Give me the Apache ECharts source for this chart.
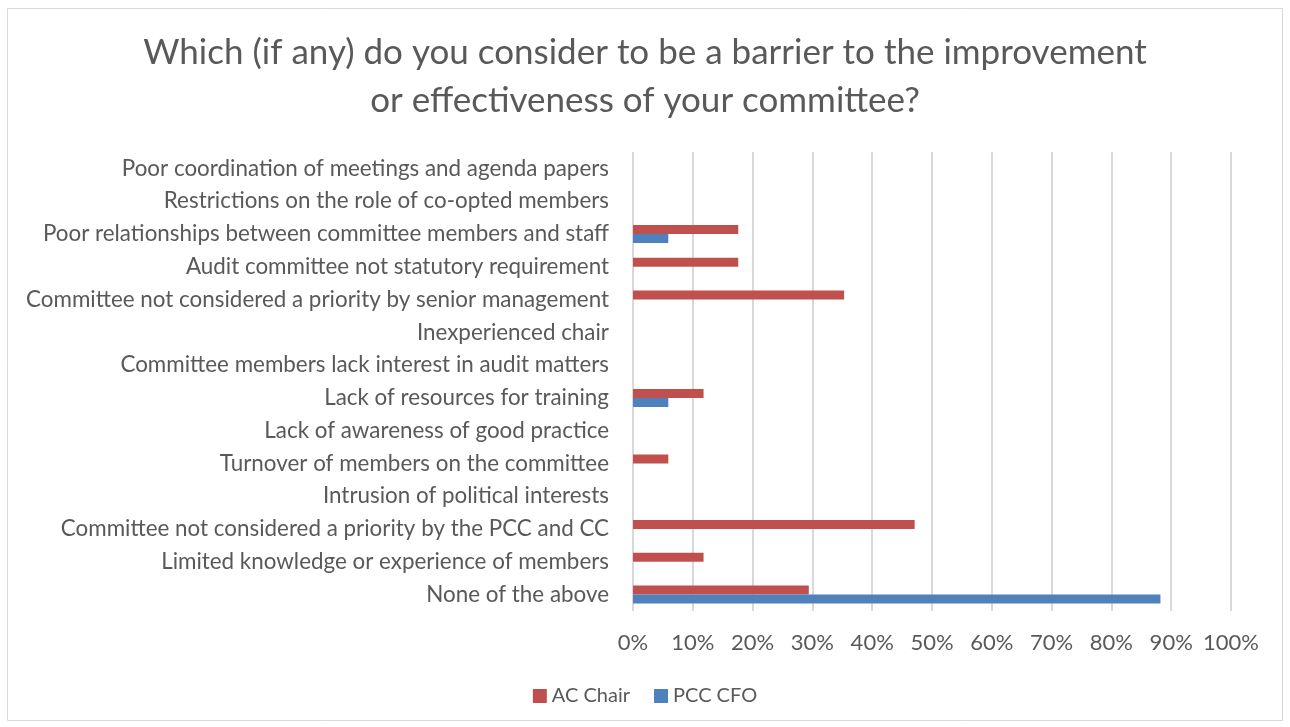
<!DOCTYPE html>
<html><head><meta charset="utf-8">
<script src="https://cdn.jsdelivr.net/npm/echarts@6/dist/echarts.min.js"></script>
<style>html,body{margin:0;padding:0;background:#fff}#c{width:1290px;height:727px}</style>
</head><body><div id="c"></div>
<script>
const categories = [
  "None of the above",
  "Limited knowledge or experience of members",
  "Committee not considered a priority by the PCC and CC",
  "Intrusion of political interests",
  "Turnover of members on the committee",
  "Lack of awareness of good practice",
  "Lack of resources for training",
  "Committee members lack interest in audit matters",
  "Inexperienced chair",
  "Committee not considered a priority by senior management",
  "Audit committee not statutory requirement",
  "Poor relationships between committee members and staff",
  "Restrictions on the role of co-opted members",
  "Poor coordination of meetings and agenda papers"
];
const acChair = [29.4, 11.8, 47.1, 0, 5.9, 0, 11.8, 0, 0, 35.3, 17.6, 17.6, 0, 0];
const pccCfo  = [88.2, 0, 0, 0, 0, 0, 5.9, 0, 0, 0, 0, 5.9, 0, 0];
const xTicks = [0, 10, 20, 30, 40, 50, 60, 70, 80, 90, 100];
const titleText = "Which (if any) do you consider to be a barrier to the improvement\nor effectiveness of your committee?";

const FONT = "Lato, 'Liberation Sans', sans-serif";
const chart = echarts.init(document.getElementById('c'));
chart.setOption({
  animation: false,
  backgroundColor: '#fff',
  textStyle: {fontFamily: FONT},
  graphic: [{type: 'rect', shape: {x: 7.5, y: 8.5, width: 1275, height: 712}, style: {fill: 'none', stroke: '#D9D9D9', lineWidth: 1}, silent: true}],
  title: {
    text: titleText, left: 'center', top: 24,
    textStyle: {fontFamily: FONT, fontSize: 35, fontWeight: 'normal', color: '#595959', lineHeight: 48}
  },
  legend: {
    data: ['AC Chair', 'PCC CFO'], bottom: 16, left: 'center',
    icon: 'rect', itemWidth: 14, itemHeight: 14, itemGap: 24,
    textStyle: {fontFamily: FONT, fontSize: 20, color: '#595959'}
  },
  grid: {left: 633, right: 59, top: 152, bottom: 116, containLabel: false},
  xAxis: {
    type: 'value', min: 0, max: 100, interval: 10,
    axisLine: {show: false}, axisTick: {show: false},
    splitLine: {lineStyle: {color: '#D9D9D9', width: 2}},
    axisLabel: {formatter: v => xTicks.includes(v) ? v + '%' : '', fontFamily: FONT, fontSize: 22, color: '#595959', margin: 21}
  },
  yAxis: {
    type: 'category', data: categories,
    axisLine: {show: false}, axisTick: {show: false},
    axisLabel: {fontFamily: FONT, fontSize: 22.4, color: '#595959', margin: 24}
  },
  series: [
    {name: 'AC Chair', type: 'bar', data: acChair, itemStyle: {color: '#C0504D'}, barWidth: 9, barGap: '0%'},
    {name: 'PCC CFO', type: 'bar', data: pccCfo, itemStyle: {color: '#4F81BD'}, barWidth: 9, barGap: '0%'}
  ]
});
</script></body></html>
